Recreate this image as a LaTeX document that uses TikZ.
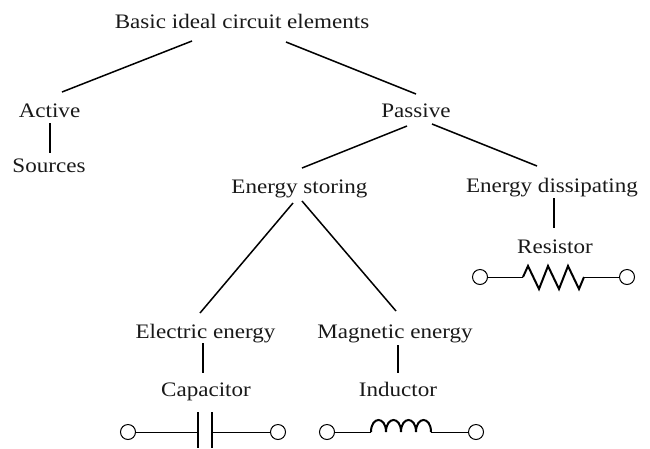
\documentclass[tikz,border=0pt]{standalone}
\usepackage{fontspec}
\setmainfont[FakeStretch=1.12]{Liberation Serif}
\usetikzlibrary{calc}
\tikzset{
  lbl/.style={anchor=base,inner sep=0pt,outer sep=0pt,font=\fontsize{20.6}{22}\selectfont,text=black!90},
  link/.style={line width=1.5pt,black},
  wire/.style={line width=1pt,black},
  part/.style={line width=2pt,black,line join=miter},
  term/.style={circle,draw=black,line width=1pt,fill=white,minimum size=15pt,inner sep=0pt,outer sep=0pt}
}
\begin{document}
\begin{tikzpicture}[x=1pt,y=-1pt]
\useasboundingbox (0,0) rectangle (650,448);
\node[lbl] (root) at (242,28) {Basic ideal circuit elements};
\node[lbl] (act) at (49.5,117) {Active};
\node[lbl] (src) at (49,172) {Sources};
\node[lbl] (pas) at (416,117) {Passive};
\node[lbl] (sto) at (299.5,193) {Energy storing};
\node[lbl] (dis) at (552,192) {Energy dissipating};
\node[lbl] (res) at (555,253) {Resistor};
\node[lbl] (ele) at (205.5,338) {Electric energy};
\node[lbl] (mag) at (395,338) {Magnetic energy};
\node[lbl] (cap) at (206,396) {Capacitor};
\node[lbl] (ind) at (398,396) {Inductor};

\draw[link] ($(root.base)+(-50,13)$) -- ($(act.base)+(12.5,-25)$);
\draw[link] ($(root.base)+(44,14)$) -- ($(pas.base)+(0,-23)$);
\draw[link] ($(act.base)+(0.5,6)$) -- ($(src.base)+(1,-19)$);
\draw[link] ($(pas.base)+(-9,9)$) -- ($(sto.base)+(2.5,-25)$);
\draw[link] ($(pas.base)+(16,7)$) -- ($(dis.base)+(-15,-26)$);
\draw[link] ($(dis.base)+(2,6)$) -- ($(res.base)+(-1,-25)$);
\draw[link] ($(sto.base)+(-6.5,10)$) -- ($(ele.base)+(-5.5,-25)$);
\draw[link] ($(sto.base)+(2.5,8)$) -- ($(mag.base)+(1,-27)$);
\draw[link] ($(ele.base)+(-2.5,5)$) -- ($(cap.base)+(-3,-23)$);
\draw[link] ($(mag.base)+(3,7)$) -- ($(ind.base)+(0,-23)$);

% Resistor
\node[term] (ra) at (480,277) {};
\node[term] (rb) at (627,277) {};
\draw[wire] (ra.east) -- (523,277) coordinate (rs);
\draw[wire] (584,277) coordinate (re) -- (rb.west);
\draw[part] (rs) -- (528,266) -- (539,289) -- (548,266) -- (559,289) -- (568,266) -- (579,289) -- (re);

% Capacitor
\node[term] (ca) at (128,432) {};
\node[term] (cb) at (278,432) {};
\coordinate (cl) at (198,432);
\coordinate (cr) at (212,432);
\draw[wire] (ca.east) -- (cl);
\draw[wire] (cr) -- (cb.west);
\draw[part] (198,412) -- (198,448);
\draw[part] (212,412) -- (212,448);

% Inductor
\node[term] (ia) at (327,432) {};
\node[term] (ib) at (476,432) {};
\draw[wire] (ia.east) -- (371,432) coordinate (is);
\draw[wire] (431,432) coordinate (ie) -- (ib.west);
\draw[part] (is)
  .. controls +(0,-16) and +(0,-16) .. ++(15,0)
  .. controls +(0,-16) and +(0,-16) .. ++(15,0)
  .. controls +(0,-16) and +(0,-16) .. ++(15,0)
  .. controls +(0,-16) and +(0,-16) .. (ie);
\end{tikzpicture}
\end{document}
